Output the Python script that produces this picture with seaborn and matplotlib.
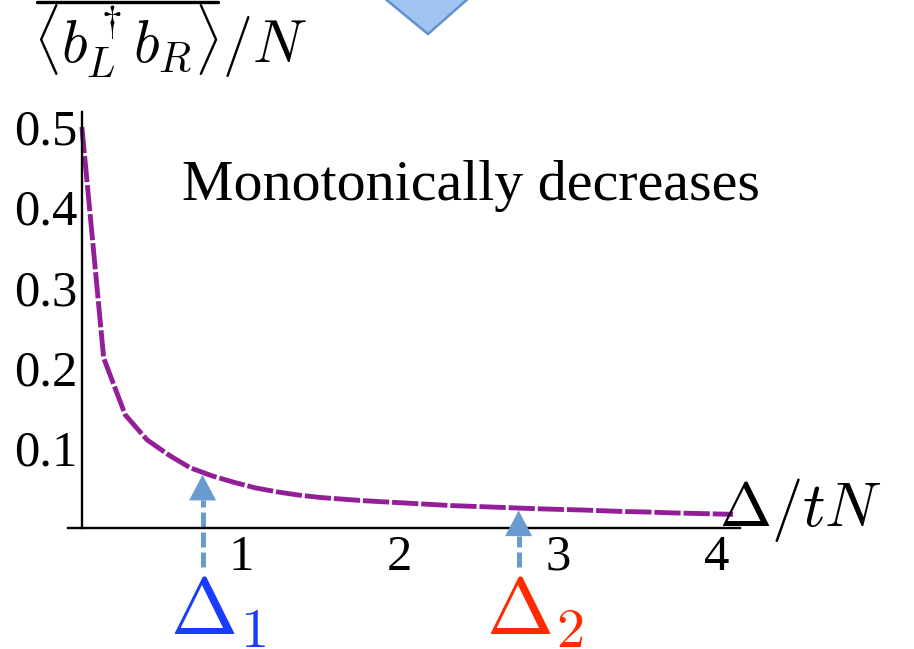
import numpy as np
import pandas as pd
import matplotlib
matplotlib.use("Agg")
import matplotlib.pyplot as plt
from matplotlib.patches import Polygon
from matplotlib.lines import Line2D
import seaborn as sns

# Hopping correlation <b_L^dagger b_R>/N versus detuning Delta/(tN)
delta_tn = [0.000, 0.137, 0.273, 0.410, 0.547, 0.683, 0.820, 0.957, 1.093, 1.230,
            1.367, 1.503, 1.640, 1.777, 1.913, 2.050, 2.187, 2.323, 2.460, 2.597,
            2.733, 2.870, 3.007, 3.143, 3.280, 3.417, 3.553, 3.690, 3.827, 3.963,
            4.100]
correlation = [0.500, 0.212, 0.141, 0.110, 0.091, 0.075, 0.065, 0.057, 0.050, 0.045,
               0.041, 0.038, 0.036, 0.034, 0.0325, 0.031, 0.0295, 0.028, 0.027, 0.026,
               0.025, 0.024, 0.0232, 0.0225, 0.0215, 0.0205, 0.020, 0.019, 0.0183, 0.0177,
               0.017]

x_ticks = [1, 2, 3, 4]
y_ticks = [0.1, 0.2, 0.3, 0.4, 0.5]
y_tick_labels = ["0.1", "0.2", "0.3", "0.4", "0.5"]

# Marked detunings
marker_x = [0.76, 2.75]
marker_labels = [r"$\Delta_1$", r"$\Delta_2$"]
marker_colors = ["#1A3CFF", "#FF2A00"]

sns.set_theme(style="white")
plt.rcParams["font.family"] = ["Liberation Serif", "DejaVu Serif"]
plt.rcParams["mathtext.fontset"] = "cm"

W, H = 914, 649
fig = plt.figure(figsize=(W / 100, H / 100), dpi=100)
fig.patch.set_facecolor("white")

ax = fig.add_axes([68 / W, 121 / H, (740 - 68) / W, (528 - 112) / H])
ax.set_facecolor("white")

df = pd.DataFrame({"x": delta_tn, "y": correlation})
sns.lineplot(data=df, x="x", y="y", ax=ax, color="#921F97", linewidth=3.5,
             linestyle=(0, (5.4, 0.6)), solid_capstyle="butt")

ax.set_xlim(-0.0875, 4.144)
ax.set_ylim(0, 0.5187)
ax.set_xlabel("")
ax.set_ylabel("")

for s in ["top", "right"]:
    ax.spines[s].set_visible(False)
ax.spines["left"].set_position(("data", 0.0))
for s in ["left", "bottom"]:
    ax.spines[s].set_color("black")
    ax.spines[s].set_linewidth(1.7)

ax.set_xticks(x_ticks)
ax.set_xticklabels([str(t) for t in x_ticks])
ax.set_yticks(y_ticks)
ax.set_yticklabels(y_tick_labels)
ax.tick_params(axis="both", direction="in", length=6.5, width=1.6, color="black",
               labelsize=36.5, labelcolor="black")
ax.tick_params(axis="y", pad=3.0)
ax.tick_params(axis="x", pad=4.5)

# Annotation text
ax.text(0.63, 0.409, "Monotonically decreases", fontsize=41.8, color="black",
        ha="left", va="baseline")

# Axis labels drawn as free text at the ends of the axes
ax.text(4.012, 0.002, r"$\Delta/tN$", fontsize=45, color="black",
        ha="left", va="baseline", clip_on=False)
fig.text(33 / W, 1 - 63 / H, r"$\langle b_L^\dagger b_R\rangle/N$", fontsize=43,
         color="black", ha="left", va="baseline")
fig.add_artist(Line2D([37 / W, 218 / W], [1 - 2 / H, 1 - 2 / H], color="black", lw=2.4))

# Arrows pointing at the marked detunings, with their labels
arrow_color = "#6A9BD0"
head_w, head_h = 0.085, 0.032
bottom = -0.049
for xm, lab, col in zip(marker_x, marker_labels, marker_colors):
    tip = np.interp(xm, delta_tn, correlation) - 0.003
    base = tip - head_h
    ax.plot([xm, xm], [bottom, base], color=arrow_color, lw=3.6,
            linestyle=(0, (3.0, 1.0)), clip_on=False, solid_capstyle="butt")
    ax.add_patch(Polygon([[xm - head_w, base], [xm + head_w, base], [xm, tip]],
                         closed=True, facecolor=arrow_color, edgecolor="none",
                         clip_on=False, zorder=4))
    ax.text(xm + 0.1, -0.133, lab, fontsize=58, color=col, ha="center",
            va="baseline", clip_on=False)

# Downward block arrow at the top of the panel
tri_px = [(383, -3), (470, -3), (428, 34)]
fig.add_artist(Polygon([[px / W, 1 - py / H] for px, py in tri_px], closed=True,
                       facecolor="#A0C4F2", edgecolor="#6291CC", lw=1.8,
                       transform=fig.transFigure))

fig.savefig("out.png", dpi=100, facecolor="white")
